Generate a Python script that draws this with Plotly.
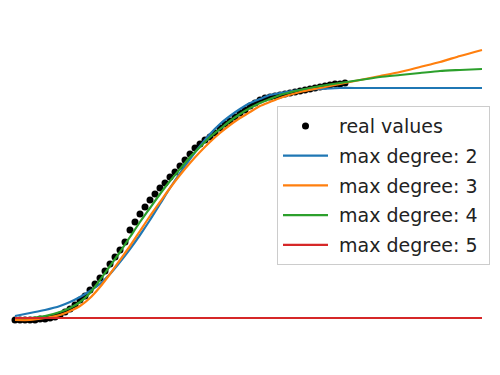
import plotly.graph_objects as go

# real values (day index, value)
days_real = list(range(0, 67))
real_values = [0, 0, 0, 0, 0, 1, 1, 2, 3, 5, 8, 11, 15, 20, 24, 30, 36, 42, 49, 56,
               63, 70, 78, 90, 98, 106, 113, 120, 126, 132, 137, 143, 148, 154, 160,
               166, 172, 176, 180, 183, 187, 192, 196, 199, 203, 207, 210, 214, 217,
               220, 222, 223, 224, 225, 226, 227, 228, 229, 230, 231, 232, 233, 234,
               235, 236, 236, 237]

# fitted curves
days_fit = [0, 3, 6, 9, 11, 13, 15, 17, 19, 21, 23, 25, 27, 29, 31, 33, 35, 37, 39,
            41, 43, 45, 47, 49, 51, 53, 57, 61, 65, 69, 73, 77, 81, 85, 89, 93.4]
fit_deg2 = [4, 7, 10, 14, 18, 23, 29, 36, 46, 58, 71, 85, 100, 116, 132, 147, 161, 174,
            186, 196, 204, 211, 217, 221, 225, 227, 230, 231, 232, 232, 232, 232, 232,
            232, 232, 232]
fit_deg3 = [0, 0, 2, 5, 9, 14, 22, 33, 46, 60, 74, 89, 104, 118, 132, 145, 157, 168,
            178, 187, 195, 202, 208, 214, 218, 222, 228, 232, 236, 240, 244, 248, 253,
            258, 264, 270]
fit_deg4 = [2, 2, 4, 8, 12, 18, 27, 40, 54, 68, 83, 98, 112, 126, 139, 151, 163, 173,
            183, 191, 199, 206, 212, 217, 221, 225, 230, 234, 237, 240, 243, 245, 247,
            249, 250, 251]
fit_deg5 = [2] * len(days_fit)

colors = ["#1f77b4", "#ff7f0e", "#2ca02c", "#d62728"]
fits = [fit_deg2, fit_deg3, fit_deg4, fit_deg5]
names = ["max degree: 2", "max degree: 3", "max degree: 4", "max degree: 5"]

NB = "\u00a0"

fig = go.Figure()
fig.add_trace(go.Scatter(x=days_real, y=real_values, mode="markers",
                         name=NB + "real values" + NB,
                         legendgroup="g0",
                         marker=dict(color="black", size=7)))
for i, (f, c, n) in enumerate(zip(fits, colors, names)):
    fig.add_trace(go.Scatter(x=days_fit, y=f, mode="lines", name=NB + n + NB,
                             legendgroup="g%d" % (i + 1),
                             line=dict(color=c, width=2.2, shape="spline", smoothing=0.6)))

fig.update_layout(
    width=500, height=375,
    margin=dict(l=0, r=0, t=0, b=0),
    paper_bgcolor="white", plot_bgcolor="white",
    xaxis=dict(visible=False, range=[-3, 97]),
    yaxis=dict(visible=False, range=[-55, 320]),
    legend=dict(x=0.554, y=0.717, xanchor="left", yanchor="top",
                itemwidth=45, tracegroupgap=2,
                font=dict(family="DejaVu Sans", size=19, color="#222222"),
                bgcolor="rgba(255,255,255,0.8)", bordercolor="#cccccc", borderwidth=1),
    showlegend=True,
)
fig.write_html("out.html")
